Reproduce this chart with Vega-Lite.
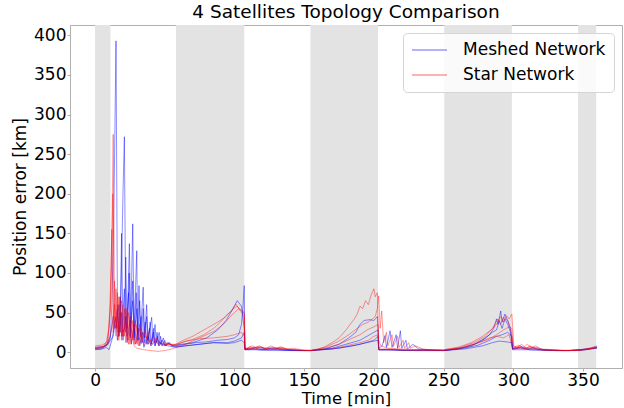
{
"$schema": "https://vega.github.io/schema/vega-lite/v6.json",
"width": 552, "height": 343,
"autosize": {"type": "none"},
"padding": {"left": 70, "top": 25, "right": 2, "bottom": 40},
"background": "white",
"title": {"text": "4 Satellites Topology Comparison", "font": "DejaVu Sans", "fontSize": 18.5, "fontWeight": "normal", "color": "black", "offset": 4},
"config": {
 "view": {"stroke": "#b0b0b0", "strokeWidth": 1},
 "axis": {"grid": false, "domainColor": "#b0b0b0", "tickColor": "#b0b0b0", "tickSize": 3, "labelFont": "DejaVu Sans", "labelFontSize": 17, "labelColor": "black", "titleFont": "DejaVu Sans", "titleFontSize": 17, "titleFontWeight": "normal", "titleColor": "black", "labelPadding": 1}
},
"datasets": {
 "shade": [{"a":0,"b":11},{"a":58,"b":107},{"a":154.5,"b":203},{"a":250.5,"b":299},{"a":346.5,"b":359.5}],
 "meshed": [
{"t":0,"s":"M1","v":5},{"t":3,"s":"M1","v":5},{"t":6,"s":"M1","v":7},{"t":9,"s":"M1","v":9},{"t":11,"s":"M1","v":18},{"t":12,"s":"M1","v":60},{"t":13,"s":"M1","v":130},{"t":14,"s":"M1","v":250},{"t":15,"s":"M1","v":393},{"t":16,"s":"M1","v":60},{"t":17,"s":"M1","v":20},{"t":18,"s":"M1","v":40},{"t":19,"s":"M1","v":150},{"t":20,"s":"M1","v":25},{"t":21,"s":"M1","v":30},{"t":22,"s":"M1","v":120},{"t":23,"s":"M1","v":20},{"t":24.5,"s":"M1","v":100},{"t":25.5,"s":"M1","v":18},{"t":27,"s":"M1","v":90},{"t":28,"s":"M1","v":15},{"t":29.5,"s":"M1","v":75},{"t":30.5,"s":"M1","v":15},{"t":32,"s":"M1","v":65},{"t":33,"s":"M1","v":12},{"t":34.5,"s":"M1","v":55},{"t":35.5,"s":"M1","v":12},{"t":37,"s":"M1","v":45},{"t":38,"s":"M1","v":10},{"t":39.5,"s":"M1","v":38},{"t":40.5,"s":"M1","v":10},{"t":42,"s":"M1","v":30},{"t":43,"s":"M1","v":8},{"t":44.5,"s":"M1","v":25},{"t":45.5,"s":"M1","v":8},{"t":47,"s":"M1","v":20},{"t":48,"s":"M1","v":8},{"t":50,"s":"M1","v":15},{"t":51,"s":"M1","v":8},{"t":53,"s":"M1","v":12},{"t":55,"s":"M1","v":8},{"t":58,"s":"M1","v":8},{"t":65,"s":"M1","v":10},{"t":72,"s":"M1","v":12},{"t":80,"s":"M1","v":13},{"t":88,"s":"M1","v":15},{"t":95,"s":"M1","v":16},{"t":100,"s":"M1","v":18},{"t":103,"s":"M1","v":22},{"t":105,"s":"M1","v":35},{"t":106,"s":"M1","v":55},{"t":107,"s":"M1","v":84},{"t":107.5,"s":"M1","v":4},{"t":110,"s":"M1","v":3},{"t":115,"s":"M1","v":5},{"t":120,"s":"M1","v":3},{"t":128,"s":"M1","v":4},{"t":135,"s":"M1","v":3},{"t":145,"s":"M1","v":2},{"t":155,"s":"M1","v":2},{"t":165,"s":"M1","v":4},{"t":175,"s":"M1","v":10},{"t":182,"s":"M1","v":18},{"t":187,"s":"M1","v":25},{"t":190,"s":"M1","v":35},{"t":193,"s":"M1","v":40},{"t":197,"s":"M1","v":41},{"t":200,"s":"M1","v":40},{"t":202.5,"s":"M1","v":45},{"t":203.5,"s":"M1","v":5},{"t":206,"s":"M1","v":8},{"t":208,"s":"M1","v":21},{"t":209,"s":"M1","v":6},{"t":211.6,"s":"M1","v":27},{"t":213,"s":"M1","v":6},{"t":216,"s":"M1","v":22},{"t":217,"s":"M1","v":5},{"t":219,"s":"M1","v":27},{"t":220,"s":"M1","v":5},{"t":223,"s":"M1","v":15},{"t":224,"s":"M1","v":4},{"t":228,"s":"M1","v":10},{"t":232,"s":"M1","v":4},{"t":240,"s":"M1","v":3},{"t":250,"s":"M1","v":2},{"t":260,"s":"M1","v":4},{"t":270,"s":"M1","v":8},{"t":278,"s":"M1","v":15},{"t":283,"s":"M1","v":22},{"t":286,"s":"M1","v":30},{"t":288,"s":"M1","v":42},{"t":289,"s":"M1","v":35},{"t":291,"s":"M1","v":52},{"t":292,"s":"M1","v":38},{"t":294,"s":"M1","v":48},{"t":296,"s":"M1","v":40},{"t":298,"s":"M1","v":30},{"t":299.5,"s":"M1","v":5},{"t":305,"s":"M1","v":6},{"t":310,"s":"M1","v":4},{"t":315,"s":"M1","v":5},{"t":320,"s":"M1","v":3},{"t":330,"s":"M1","v":2},{"t":340,"s":"M1","v":2},{"t":348,"s":"M1","v":3},{"t":355,"s":"M1","v":5},{"t":360,"s":"M1","v":7},
{"t":0,"s":"M2","v":4},{"t":4,"s":"M2","v":4},{"t":8,"s":"M2","v":8},{"t":11,"s":"M2","v":20},{"t":13,"s":"M2","v":45},{"t":15,"s":"M2","v":30},{"t":17,"s":"M2","v":60},{"t":18,"s":"M2","v":25},{"t":19,"s":"M2","v":110},{"t":20,"s":"M2","v":200},{"t":21,"s":"M2","v":272},{"t":22,"s":"M2","v":40},{"t":23,"s":"M2","v":30},{"t":24.6,"s":"M2","v":137},{"t":25.5,"s":"M2","v":30},{"t":27,"s":"M2","v":162},{"t":28,"s":"M2","v":25},{"t":29.9,"s":"M2","v":128},{"t":30.5,"s":"M2","v":22},{"t":31.5,"s":"M2","v":84},{"t":32.5,"s":"M2","v":20},{"t":34.5,"s":"M2","v":82},{"t":35.5,"s":"M2","v":18},{"t":37,"s":"M2","v":60},{"t":38,"s":"M2","v":15},{"t":40.6,"s":"M2","v":44},{"t":41.5,"s":"M2","v":14},{"t":43,"s":"M2","v":35},{"t":44,"s":"M2","v":12},{"t":46,"s":"M2","v":25},{"t":47,"s":"M2","v":10},{"t":49,"s":"M2","v":18},{"t":50,"s":"M2","v":9},{"t":52,"s":"M2","v":12},{"t":55,"s":"M2","v":8},{"t":58,"s":"M2","v":7},{"t":65,"s":"M2","v":8},{"t":75,"s":"M2","v":10},{"t":85,"s":"M2","v":12},{"t":95,"s":"M2","v":12},{"t":100,"s":"M2","v":14},{"t":105,"s":"M2","v":18},{"t":107,"s":"M2","v":25},{"t":107.5,"s":"M2","v":3},{"t":112,"s":"M2","v":4},{"t":118,"s":"M2","v":3},{"t":125,"s":"M2","v":4},{"t":132,"s":"M2","v":3},{"t":140,"s":"M2","v":2},{"t":150,"s":"M2","v":2},{"t":160,"s":"M2","v":3},{"t":170,"s":"M2","v":5},{"t":180,"s":"M2","v":10},{"t":190,"s":"M2","v":15},{"t":195,"s":"M2","v":20},{"t":200,"s":"M2","v":25},{"t":203,"s":"M2","v":28},{"t":203.5,"s":"M2","v":3},{"t":210,"s":"M2","v":3},{"t":220,"s":"M2","v":2},{"t":235,"s":"M2","v":3},{"t":250,"s":"M2","v":2},{"t":262,"s":"M2","v":5},{"t":272,"s":"M2","v":10},{"t":280,"s":"M2","v":18},{"t":285,"s":"M2","v":25},{"t":288,"s":"M2","v":28},{"t":290,"s":"M2","v":40},{"t":292,"s":"M2","v":30},{"t":294,"s":"M2","v":42},{"t":296,"s":"M2","v":35},{"t":298,"s":"M2","v":25},{"t":299.5,"s":"M2","v":4},{"t":305,"s":"M2","v":5},{"t":312,"s":"M2","v":3},{"t":320,"s":"M2","v":3},{"t":335,"s":"M2","v":2},{"t":345,"s":"M2","v":2},{"t":352,"s":"M2","v":3},{"t":360,"s":"M2","v":6},
{"t":0,"s":"M3","v":6},{"t":6,"s":"M3","v":7},{"t":10,"s":"M3","v":12},{"t":13,"s":"M3","v":20},{"t":15,"s":"M3","v":45},{"t":16,"s":"M3","v":15},{"t":18,"s":"M3","v":70},{"t":19,"s":"M3","v":20},{"t":21,"s":"M3","v":80},{"t":22,"s":"M3","v":25},{"t":24,"s":"M3","v":75},{"t":25,"s":"M3","v":20},{"t":27,"s":"M3","v":65},{"t":28,"s":"M3","v":18},{"t":30,"s":"M3","v":55},{"t":31,"s":"M3","v":15},{"t":33,"s":"M3","v":45},{"t":34,"s":"M3","v":12},{"t":36,"s":"M3","v":38},{"t":37,"s":"M3","v":10},{"t":39,"s":"M3","v":30},{"t":40,"s":"M3","v":10},{"t":42,"s":"M3","v":25},{"t":43,"s":"M3","v":8},{"t":45,"s":"M3","v":20},{"t":46,"s":"M3","v":8},{"t":48,"s":"M3","v":15},{"t":50,"s":"M3","v":8},{"t":53,"s":"M3","v":12},{"t":56,"s":"M3","v":8},{"t":58,"s":"M3","v":9},{"t":62,"s":"M3","v":10},{"t":70,"s":"M3","v":12},{"t":80,"s":"M3","v":18},{"t":88,"s":"M3","v":28},{"t":94,"s":"M3","v":40},{"t":98,"s":"M3","v":52},{"t":102,"s":"M3","v":65},{"t":105,"s":"M3","v":58},{"t":107,"s":"M3","v":30},{"t":107.5,"s":"M3","v":4},{"t":111,"s":"M3","v":5},{"t":116,"s":"M3","v":6},{"t":122,"s":"M3","v":4},{"t":128,"s":"M3","v":5},{"t":134,"s":"M3","v":4},{"t":140,"s":"M3","v":3},{"t":148,"s":"M3","v":2},{"t":155,"s":"M3","v":2},{"t":170,"s":"M3","v":4},{"t":185,"s":"M3","v":8},{"t":195,"s":"M3","v":12},{"t":200,"s":"M3","v":14},{"t":203,"s":"M3","v":15},{"t":203.5,"s":"M3","v":3},{"t":215,"s":"M3","v":3},{"t":230,"s":"M3","v":2},{"t":250,"s":"M3","v":2},{"t":265,"s":"M3","v":5},{"t":275,"s":"M3","v":9},{"t":283,"s":"M3","v":15},{"t":288,"s":"M3","v":20},{"t":292,"s":"M3","v":22},{"t":296,"s":"M3","v":25},{"t":299,"s":"M3","v":20},{"t":299.5,"s":"M3","v":4},{"t":306,"s":"M3","v":7},{"t":310,"s":"M3","v":5},{"t":316,"s":"M3","v":6},{"t":322,"s":"M3","v":3},{"t":335,"s":"M3","v":2},{"t":348,"s":"M3","v":3},{"t":360,"s":"M3","v":5},
{"t":0,"s":"M4","v":3},{"t":5,"s":"M4","v":4},{"t":8,"s":"M4","v":6},{"t":10,"s":"M4","v":3},{"t":12,"s":"M4","v":15},{"t":14,"s":"M4","v":35},{"t":16,"s":"M4","v":55},{"t":17,"s":"M4","v":20},{"t":19,"s":"M4","v":50},{"t":20,"s":"M4","v":15},{"t":22,"s":"M4","v":45},{"t":23,"s":"M4","v":12},{"t":25,"s":"M4","v":40},{"t":26,"s":"M4","v":10},{"t":28,"s":"M4","v":35},{"t":29,"s":"M4","v":10},{"t":31,"s":"M4","v":30},{"t":32,"s":"M4","v":8},{"t":34,"s":"M4","v":25},{"t":35,"s":"M4","v":6},{"t":38,"s":"M4","v":20},{"t":40,"s":"M4","v":8},{"t":44,"s":"M4","v":15},{"t":48,"s":"M4","v":10},{"t":52,"s":"M4","v":8},{"t":58,"s":"M4","v":6},{"t":65,"s":"M4","v":8},{"t":75,"s":"M4","v":10},{"t":85,"s":"M4","v":12},{"t":95,"s":"M4","v":11},{"t":100,"s":"M4","v":12},{"t":105,"s":"M4","v":15},{"t":107,"s":"M4","v":12},{"t":107.5,"s":"M4","v":3},{"t":115,"s":"M4","v":3},{"t":125,"s":"M4","v":2},{"t":140,"s":"M4","v":2},{"t":155,"s":"M4","v":2},{"t":175,"s":"M4","v":5},{"t":190,"s":"M4","v":10},{"t":200,"s":"M4","v":15},{"t":203,"s":"M4","v":20},{"t":203.5,"s":"M4","v":3},{"t":212,"s":"M4","v":3},{"t":225,"s":"M4","v":2},{"t":250,"s":"M4","v":2},{"t":265,"s":"M4","v":4},{"t":278,"s":"M4","v":8},{"t":285,"s":"M4","v":12},{"t":290,"s":"M4","v":14},{"t":295,"s":"M4","v":13},{"t":299,"s":"M4","v":12},{"t":299.5,"s":"M4","v":3},{"t":310,"s":"M4","v":3},{"t":325,"s":"M4","v":2},{"t":340,"s":"M4","v":2},{"t":350,"s":"M4","v":3},{"t":360,"s":"M4","v":5}
 ],
 "star": [
{"t":0,"s":"S1","v":8},{"t":5,"s":"S1","v":9},{"t":8,"s":"S1","v":12},{"t":10,"s":"S1","v":30},{"t":11,"s":"S1","v":80},{"t":12,"s":"S1","v":150},{"t":13,"s":"S1","v":275},{"t":14,"s":"S1","v":40},{"t":15,"s":"S1","v":20},{"t":16,"s":"S1","v":60},{"t":17,"s":"S1","v":15},{"t":18,"s":"S1","v":70},{"t":19,"s":"S1","v":15},{"t":21,"s":"S1","v":55},{"t":22,"s":"S1","v":12},{"t":24,"s":"S1","v":50},{"t":25,"s":"S1","v":10},{"t":27,"s":"S1","v":40},{"t":28,"s":"S1","v":10},{"t":30,"s":"S1","v":35},{"t":31,"s":"S1","v":8},{"t":33,"s":"S1","v":30},{"t":35,"s":"S1","v":8},{"t":38,"s":"S1","v":25},{"t":40,"s":"S1","v":8},{"t":44,"s":"S1","v":18},{"t":48,"s":"S1","v":8},{"t":52,"s":"S1","v":10},{"t":58,"s":"S1","v":10},{"t":62,"s":"S1","v":12},{"t":70,"s":"S1","v":16},{"t":78,"s":"S1","v":22},{"t":85,"s":"S1","v":30},{"t":90,"s":"S1","v":38},{"t":95,"s":"S1","v":48},{"t":98,"s":"S1","v":52},{"t":101,"s":"S1","v":61},{"t":103,"s":"S1","v":55},{"t":105,"s":"S1","v":50},{"t":107,"s":"S1","v":45},{"t":107.5,"s":"S1","v":4},{"t":110,"s":"S1","v":6},{"t":113,"s":"S1","v":8},{"t":116,"s":"S1","v":5},{"t":119,"s":"S1","v":7},{"t":122,"s":"S1","v":4},{"t":126,"s":"S1","v":8},{"t":130,"s":"S1","v":5},{"t":134,"s":"S1","v":6},{"t":138,"s":"S1","v":4},{"t":142,"s":"S1","v":5},{"t":148,"s":"S1","v":3},{"t":155,"s":"S1","v":2},{"t":160,"s":"S1","v":4},{"t":165,"s":"S1","v":7},{"t":170,"s":"S1","v":12},{"t":175,"s":"S1","v":18},{"t":180,"s":"S1","v":28},{"t":183,"s":"S1","v":35},{"t":186,"s":"S1","v":42},{"t":188,"s":"S1","v":48},{"t":190,"s":"S1","v":58},{"t":192,"s":"S1","v":55},{"t":194,"s":"S1","v":65},{"t":196,"s":"S1","v":60},{"t":198,"s":"S1","v":72},{"t":200,"s":"S1","v":80},{"t":201,"s":"S1","v":70},{"t":202.5,"s":"S1","v":75},{"t":203.5,"s":"S1","v":15},{"t":205,"s":"S1","v":8},{"t":210,"s":"S1","v":5},{"t":220,"s":"S1","v":4},{"t":235,"s":"S1","v":3},{"t":250,"s":"S1","v":3},{"t":260,"s":"S1","v":6},{"t":270,"s":"S1","v":12},{"t":278,"s":"S1","v":20},{"t":284,"s":"S1","v":28},{"t":288,"s":"S1","v":35},{"t":291,"s":"S1","v":45},{"t":293,"s":"S1","v":38},{"t":295,"s":"S1","v":46},{"t":297,"s":"S1","v":42},{"t":299,"s":"S1","v":48},{"t":300.5,"s":"S1","v":6},{"t":304,"s":"S1","v":9},{"t":307,"s":"S1","v":5},{"t":310,"s":"S1","v":10},{"t":313,"s":"S1","v":6},{"t":316,"s":"S1","v":8},{"t":320,"s":"S1","v":4},{"t":330,"s":"S1","v":3},{"t":340,"s":"S1","v":2},{"t":348,"s":"S1","v":3},{"t":355,"s":"S1","v":5},{"t":360,"s":"S1","v":8},
{"t":0,"s":"S2","v":5},{"t":6,"s":"S2","v":7},{"t":9,"s":"S2","v":15},{"t":11,"s":"S2","v":60},{"t":12,"s":"S2","v":120},{"t":12.7,"s":"S2","v":200},{"t":13.5,"s":"S2","v":30},{"t":15,"s":"S2","v":80},{"t":16,"s":"S2","v":30},{"t":17,"s":"S2","v":70},{"t":18,"s":"S2","v":25},{"t":20,"s":"S2","v":60},{"t":21,"s":"S2","v":20},{"t":23,"s":"S2","v":55},{"t":24,"s":"S2","v":15},{"t":26,"s":"S2","v":45},{"t":27,"s":"S2","v":15},{"t":29,"s":"S2","v":40},{"t":30,"s":"S2","v":12},{"t":32,"s":"S2","v":35},{"t":33,"s":"S2","v":10},{"t":36,"s":"S2","v":28},{"t":38,"s":"S2","v":10},{"t":42,"s":"S2","v":20},{"t":45,"s":"S2","v":10},{"t":50,"s":"S2","v":12},{"t":55,"s":"S2","v":9},{"t":58,"s":"S2","v":10},{"t":62,"s":"S2","v":14},{"t":70,"s":"S2","v":20},{"t":80,"s":"S2","v":30},{"t":88,"s":"S2","v":38},{"t":94,"s":"S2","v":45},{"t":99,"s":"S2","v":55},{"t":102,"s":"S2","v":58},{"t":105,"s":"S2","v":52},{"t":107,"s":"S2","v":50},{"t":107.5,"s":"S2","v":3},{"t":111,"s":"S2","v":7},{"t":114,"s":"S2","v":5},{"t":118,"s":"S2","v":8},{"t":121,"s":"S2","v":5},{"t":125,"s":"S2","v":6},{"t":129,"s":"S2","v":4},{"t":133,"s":"S2","v":7},{"t":137,"s":"S2","v":4},{"t":142,"s":"S2","v":3},{"t":150,"s":"S2","v":2},{"t":155,"s":"S2","v":2},{"t":165,"s":"S2","v":6},{"t":175,"s":"S2","v":14},{"t":182,"s":"S2","v":22},{"t":188,"s":"S2","v":30},{"t":192,"s":"S2","v":35},{"t":196,"s":"S2","v":38},{"t":199,"s":"S2","v":42},{"t":201,"s":"S2","v":45},{"t":202.5,"s":"S2","v":55},{"t":203.5,"s":"S2","v":71},{"t":204.5,"s":"S2","v":30},{"t":205.6,"s":"S2","v":52},{"t":207,"s":"S2","v":12},{"t":209,"s":"S2","v":25},{"t":210,"s":"S2","v":8},{"t":213,"s":"S2","v":22},{"t":214,"s":"S2","v":7},{"t":217,"s":"S2","v":20},{"t":218,"s":"S2","v":6},{"t":221,"s":"S2","v":15},{"t":222,"s":"S2","v":5},{"t":225,"s":"S2","v":12},{"t":226,"s":"S2","v":5},{"t":230,"s":"S2","v":8},{"t":235,"s":"S2","v":4},{"t":240,"s":"S2","v":3},{"t":250,"s":"S2","v":3},{"t":262,"s":"S2","v":6},{"t":272,"s":"S2","v":12},{"t":280,"s":"S2","v":20},{"t":285,"s":"S2","v":30},{"t":289,"s":"S2","v":42},{"t":291,"s":"S2","v":35},{"t":293,"s":"S2","v":44},{"t":296,"s":"S2","v":40},{"t":298,"s":"S2","v":28},{"t":300,"s":"S2","v":8},{"t":303,"s":"S2","v":6},{"t":306,"s":"S2","v":10},{"t":309,"s":"S2","v":5},{"t":312,"s":"S2","v":8},{"t":316,"s":"S2","v":4},{"t":325,"s":"S2","v":3},{"t":340,"s":"S2","v":2},{"t":350,"s":"S2","v":3},{"t":360,"s":"S2","v":6},
{"t":0,"s":"S3","v":4},{"t":6,"s":"S3","v":6},{"t":9,"s":"S3","v":12},{"t":11,"s":"S3","v":50},{"t":12,"s":"S3","v":155},{"t":13,"s":"S3","v":25},{"t":14,"s":"S3","v":90},{"t":15,"s":"S3","v":30},{"t":16,"s":"S3","v":75},{"t":17,"s":"S3","v":20},{"t":19,"s":"S3","v":65},{"t":20,"s":"S3","v":20},{"t":22,"s":"S3","v":55},{"t":23,"s":"S3","v":15},{"t":25,"s":"S3","v":45},{"t":26,"s":"S3","v":12},{"t":28,"s":"S3","v":35},{"t":30,"s":"S3","v":10},{"t":34,"s":"S3","v":25},{"t":38,"s":"S3","v":15},{"t":44,"s":"S3","v":12},{"t":50,"s":"S3","v":10},{"t":58,"s":"S3","v":9},{"t":65,"s":"S3","v":14},{"t":75,"s":"S3","v":17},{"t":85,"s":"S3","v":18},{"t":95,"s":"S3","v":20},{"t":100,"s":"S3","v":22},{"t":105,"s":"S3","v":25},{"t":107,"s":"S3","v":20},{"t":107.5,"s":"S3","v":4},{"t":112,"s":"S3","v":5},{"t":117,"s":"S3","v":7},{"t":123,"s":"S3","v":4},{"t":128,"s":"S3","v":6},{"t":135,"s":"S3","v":4},{"t":145,"s":"S3","v":3},{"t":155,"s":"S3","v":2},{"t":165,"s":"S3","v":5},{"t":175,"s":"S3","v":10},{"t":185,"s":"S3","v":18},{"t":190,"s":"S3","v":22},{"t":195,"s":"S3","v":28},{"t":200,"s":"S3","v":32},{"t":203,"s":"S3","v":35},{"t":203.5,"s":"S3","v":4},{"t":210,"s":"S3","v":4},{"t":220,"s":"S3","v":3},{"t":235,"s":"S3","v":3},{"t":250,"s":"S3","v":2},{"t":262,"s":"S3","v":5},{"t":272,"s":"S3","v":10},{"t":282,"s":"S3","v":16},{"t":288,"s":"S3","v":22},{"t":293,"s":"S3","v":28},{"t":297,"s":"S3","v":32},{"t":299,"s":"S3","v":30},{"t":300,"s":"S3","v":5},{"t":305,"s":"S3","v":8},{"t":308,"s":"S3","v":4},{"t":312,"s":"S3","v":7},{"t":318,"s":"S3","v":3},{"t":330,"s":"S3","v":2},{"t":345,"s":"S3","v":2},{"t":355,"s":"S3","v":4},{"t":360,"s":"S3","v":6},
{"t":0,"s":"S4","v":6},{"t":5,"s":"S4","v":7},{"t":9,"s":"S4","v":10},{"t":12,"s":"S4","v":30},{"t":14,"s":"S4","v":60},{"t":16,"s":"S4","v":25},{"t":18,"s":"S4","v":50},{"t":20,"s":"S4","v":20},{"t":22,"s":"S4","v":40},{"t":24,"s":"S4","v":10},{"t":26,"s":"S4","v":30},{"t":28,"s":"S4","v":8},{"t":30,"s":"S4","v":5},{"t":35,"s":"S4","v":3},{"t":40,"s":"S4","v":2},{"t":45,"s":"S4","v":1},{"t":50,"s":"S4","v":2},{"t":55,"s":"S4","v":4},{"t":58,"s":"S4","v":6},{"t":65,"s":"S4","v":10},{"t":75,"s":"S4","v":18},{"t":85,"s":"S4","v":26},{"t":92,"s":"S4","v":35},{"t":97,"s":"S4","v":45},{"t":100,"s":"S4","v":50},{"t":103,"s":"S4","v":55},{"t":106,"s":"S4","v":52},{"t":107,"s":"S4","v":48},{"t":107.5,"s":"S4","v":3},{"t":110,"s":"S4","v":5},{"t":115,"s":"S4","v":4},{"t":120,"s":"S4","v":6},{"t":126,"s":"S4","v":3},{"t":132,"s":"S4","v":5},{"t":140,"s":"S4","v":3},{"t":150,"s":"S4","v":2},{"t":155,"s":"S4","v":2},{"t":170,"s":"S4","v":4},{"t":180,"s":"S4","v":8},{"t":190,"s":"S4","v":12},{"t":196,"s":"S4","v":15},{"t":200,"s":"S4","v":20},{"t":203,"s":"S4","v":22},{"t":203.5,"s":"S4","v":3},{"t":215,"s":"S4","v":3},{"t":230,"s":"S4","v":2},{"t":250,"s":"S4","v":2},{"t":265,"s":"S4","v":6},{"t":275,"s":"S4","v":12},{"t":283,"s":"S4","v":18},{"t":288,"s":"S4","v":20},{"t":293,"s":"S4","v":18},{"t":297,"s":"S4","v":22},{"t":299.5,"s":"S4","v":4},{"t":305,"s":"S4","v":5},{"t":315,"s":"S4","v":4},{"t":325,"s":"S4","v":2},{"t":340,"s":"S4","v":2},{"t":352,"s":"S4","v":3},{"t":360,"s":"S4","v":6}
 ]
},
"layer": [
 {"data": {"name": "shade"}, "mark": {"type": "rect", "color": "#e3e3e3"},
  "encoding": {
   "x": {"field": "a", "type": "quantitative", "scale": {"domain": [-18, 378], "nice": false, "zero": false}, "axis": {"values": [0,50,100,150,200,250,300,350], "title": "Time [min]", "titlePadding": 2, "titleFontSize": 16.5}},
   "x2": {"field": "b"}}},
 {"data": {"name": "meshed"}, "mark": {"type": "line", "strokeWidth": 1, "opacity": 0.45},
  "encoding": {
   "x": {"field": "t", "type": "quantitative"},
   "y": {"field": "v", "type": "quantitative", "scale": {"domain": [-20, 413], "nice": false, "zero": false}, "axis": {"values": [0,50,100,150,200,250,300,350,400], "title": "Position error [km]", "titlePadding": 4}},
   "detail": {"field": "s"},
   "color": {"datum": "Meshed Network", "type": "nominal",
     "scale": {"domain": ["Meshed Network", "Star Network"], "range": ["#0000ff", "#ff0000"]},
     "legend": {"title": null, "orient": "none", "legendX": 333, "legendY": 8, "fillColor": "rgba(255,255,255,0.8)", "strokeColor": "#d5d5d5", "cornerRadius": 4, "padding": 8, "symbolType": "stroke", "symbolSize": 1225, "clipHeight": 18, "symbolStrokeWidth": 1.5, "symbolOpacity": 0.3, "labelFont": "DejaVu Sans", "labelFontSize": 17, "labelColor": "black", "labelOffset": 15, "rowPadding": 7}}}},
 {"data": {"name": "star"}, "mark": {"type": "line", "strokeWidth": 1, "opacity": 0.4},
  "encoding": {
   "x": {"field": "t", "type": "quantitative"},
   "y": {"field": "v", "type": "quantitative"},
   "detail": {"field": "s"},
   "color": {"datum": "Star Network", "type": "nominal"}}}
]
}
